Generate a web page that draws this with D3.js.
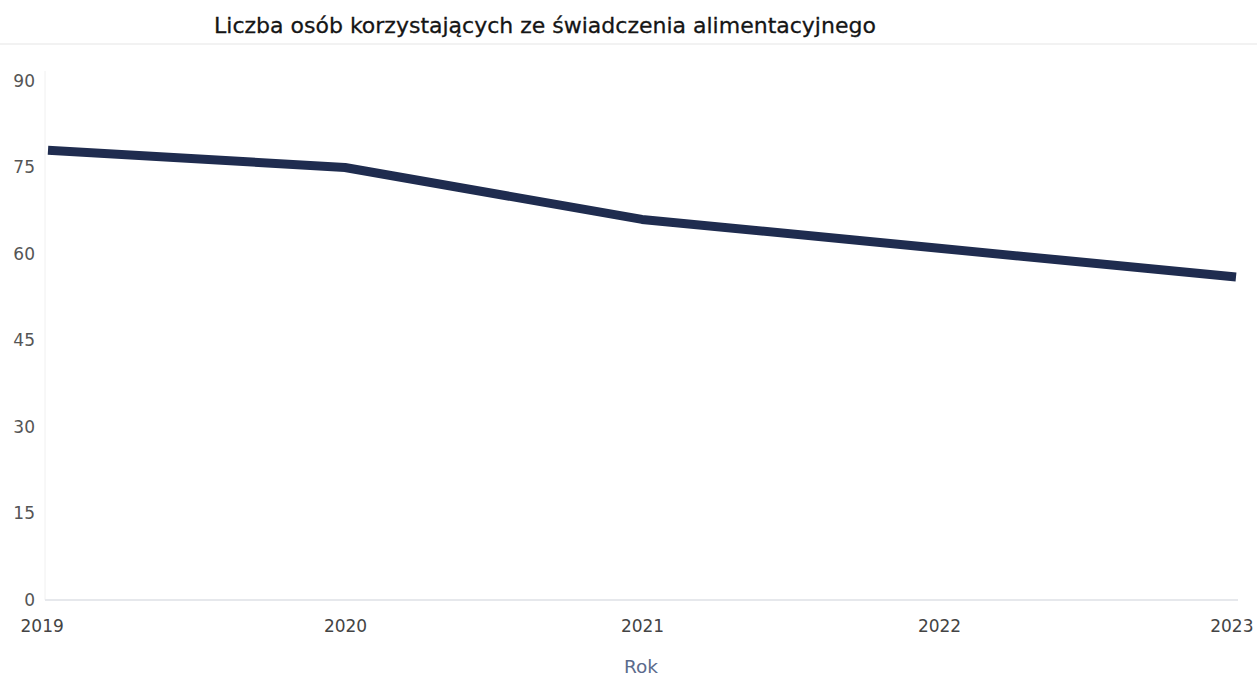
<!DOCTYPE html>
<html>
<head>
<meta charset="utf-8">
<script src="https://cdn.jsdelivr.net/npm/d3@7"></script>
<style>
  html, body { margin: 0; padding: 0; background: #fff; }
  svg { display: block; }
</style>
</head>
<body>
<svg id="chart" width="1257" height="680"></svg>
<script>
// Number of alimony-fund beneficiaries per year
const years = ["2019", "2020", "2021", "2022", "2023"];
const beneficiaries = [78, 75, 66, 61, 56];
const yTicks = [0, 15, 30, 45, 60, 75, 90];
const chartTitle = "Liczba osób korzystających ze świadczenia alimentacyjnego";
const xAxisTitle = "Rok";

const svg = d3.select("#chart");
const W = 1257, H = 680;
const margin = { left: 47, right: 21, top: 81, bottom: 80 };
const FONT = "DejaVu Sans, Verdana, sans-serif";

const x = d3.scalePoint().domain(years).range([margin.left + 1, W - margin.right]);
const y = d3.scaleLinear().domain([0, 90]).range([H - margin.bottom, margin.top]);

// header separator
svg.append("line")
  .attr("x1", 0).attr("x2", W).attr("y1", 44).attr("y2", 44)
  .attr("stroke", "#f2f2f2").attr("stroke-width", 2);

// title
svg.append("text")
  .attr("x", 545).attr("y", 33)
  .attr("text-anchor", "middle")
  .attr("font-family", FONT)
  .attr("font-size", 22)
  .attr("fill", "#151515")
  .attr("stroke", "#151515")
  .attr("stroke-width", 0.3)
  .text(chartTitle);

// y axis
const yAxis = svg.append("g")
  .attr("transform", `translate(${margin.left - 12},0)`)
  .call(d3.axisLeft(y).tickValues(yTicks).tickSize(0).tickPadding(0));
yAxis.select(".domain").remove();
yAxis.selectAll("text")
  .attr("font-family", FONT)
  .attr("font-size", 17)
  .attr("fill", "#555");

// vertical plot edge
svg.append("line")
  .attr("x1", margin.left - 2).attr("x2", margin.left - 2)
  .attr("y1", y(90) - 10).attr("y2", y(0))
  .attr("stroke", "#f0f0f0").attr("stroke-width", 1);

// baseline
svg.append("line")
  .attr("x1", margin.left - 2).attr("x2", W - margin.right + 2)
  .attr("y1", y(0)).attr("y2", y(0))
  .attr("stroke", "#e6e8ec").attr("stroke-width", 2);

// x axis
const xAxis = svg.append("g")
  .attr("transform", `translate(0,${y(0) + 26})`)
  .call(d3.axisBottom(x).tickSize(0).tickPadding(0));
xAxis.select(".domain").remove();
xAxis.selectAll("text")
  .attr("font-family", FONT)
  .attr("font-size", 17)
  .attr("fill", "#444")
  .attr("dy", "0.35em")
  .attr("text-anchor", (d, i) => i === 0 ? "start" : (i === years.length - 1 ? "end" : "middle"))
  .attr("dx", (d, i) => i === 0 ? -28 : (i === years.length - 1 ? 17 : 0));

// x axis title
svg.append("text")
  .attr("x", 641).attr("y", 673)
  .attr("text-anchor", "middle")
  .attr("font-family", FONT)
  .attr("font-size", 18.5)
  .attr("fill", "#5b6b8c")
  .text(xAxisTitle);

// series line
const line = d3.line()
  .x((d, i) => x(years[i]))
  .y(d => y(d));

svg.append("path")
  .datum(beneficiaries)
  .attr("d", line)
  .attr("fill", "none")
  .attr("stroke", "#1f2c4f")
  .attr("stroke-width", 9)
  .attr("stroke-linejoin", "round")
  .attr("stroke-linecap", "butt");
</script>
</body>
</html>
